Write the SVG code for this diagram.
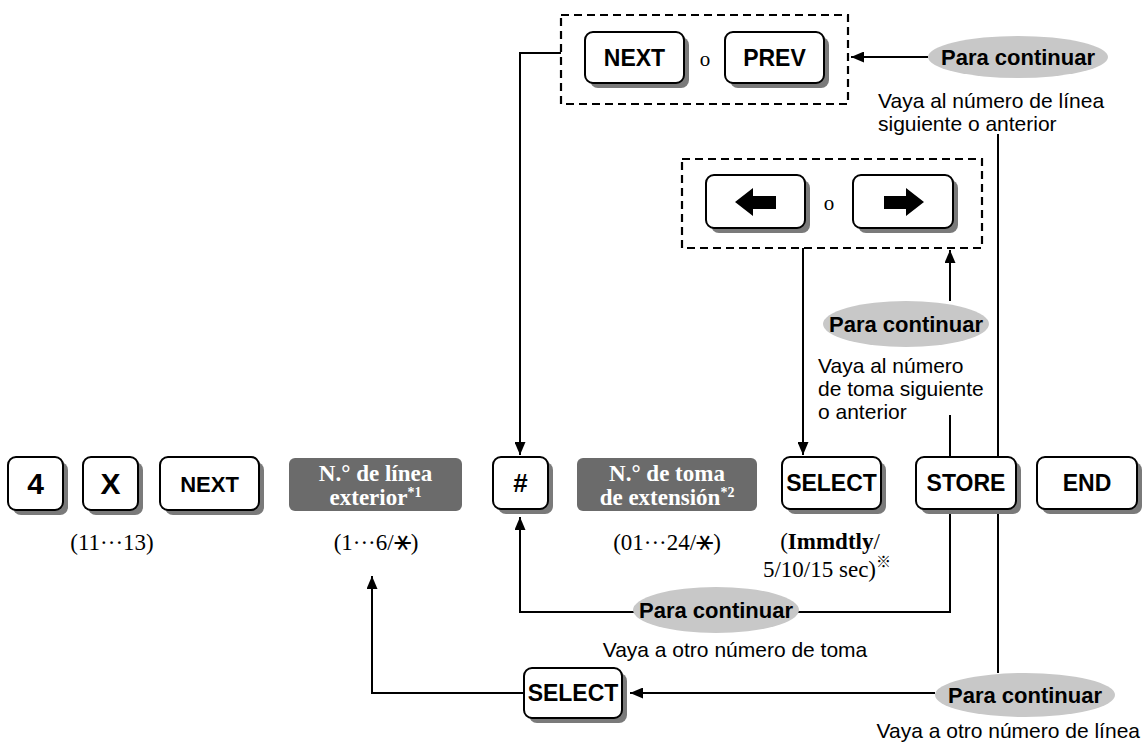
<svg xmlns="http://www.w3.org/2000/svg" width="1144" height="744" viewBox="0 0 1144 744">
<style>
.sh{fill:#7a7a7a}
.btn{fill:#fff;stroke:#000;stroke-width:2}
.bl{font-family:"Liberation Sans",Arial,sans-serif;font-weight:bold;font-size:23px;text-anchor:middle;fill:#000}
.gb{fill:#6b6b6b}
.gt{font-family:"Liberation Serif","Times New Roman",serif;font-weight:bold;font-size:23px;text-anchor:middle;fill:#fff}
.st{font-family:"Liberation Serif","Times New Roman",serif;font-size:23px;text-anchor:middle;fill:#000}
.sym{font-family:"DejaVu Sans","Noto Sans",sans-serif;font-size:29px}
.ell{fill:#c8c8c8}
.pc{font-family:"Liberation Sans",Arial,sans-serif;font-weight:bold;font-size:22px;text-anchor:middle;fill:#000}
.nt{font-family:"Liberation Sans",Arial,sans-serif;font-size:21px;fill:#000}
.ln{fill:none;stroke:#000;stroke-width:2}
.dash{fill:none;stroke:#000;stroke-width:2.2;stroke-dasharray:8 5}
</style>
<defs>
<marker id="ah" viewBox="0 0 13 11" refX="13" refY="5.5" markerWidth="13" markerHeight="11" markerUnits="userSpaceOnUse" orient="auto">
<path d="M0,0 L13,5.5 L0,11 Z" fill="#000"/>
</marker>
</defs>

<g id="connectors">
<path class="ln" d="M561,53 H520 V455" marker-end="url(#ah)"/>
<path class="ln" d="M928,57 H851" marker-end="url(#ah)"/>
<path class="ln" d="M998,134 V673"/>
<path class="ln" d="M803,248 V455" marker-end="url(#ah)"/>
<path class="ln" d="M950,301 V250" marker-end="url(#ah)"/>
<path class="ln" d="M950,415 V612 H520 V517" marker-end="url(#ah)"/>
<path class="ln" d="M935,693 H630" marker-end="url(#ah)"/>
<path class="ln" d="M524,693 H372 V576" marker-end="url(#ah)"/>
</g>

<g id="group-next-prev">
<rect class="dash" x="561" y="15" width="287" height="89"/>
<g id="btn-next-top">
<rect class="sh" x="590" y="37" width="99" height="51" rx="8"/>
<rect class="btn" x="585" y="32" width="99" height="51" rx="8"/>
<text class="bl" x="634.5" y="65.5">NEXT</text>
</g>
<text class="st" x="705" y="66" style="font-size:21px">o</text>
<g id="btn-prev-top">
<rect class="sh" x="730" y="37" width="99" height="51" rx="8"/>
<rect class="btn" x="725" y="32" width="99" height="51" rx="8"/>
<text class="bl" x="774.5" y="65.5">PREV</text>
</g>
</g>

<g id="cont-top">
<ellipse class="ell" cx="1018" cy="57" rx="90" ry="21"/>
<text class="pc" x="1018" y="65">Para continuar</text>
<text class="nt" x="878" y="108">Vaya al número de línea</text>
<text class="nt" x="878" y="131">siguiente o anterior</text>
</g>

<g id="group-arrows">
<rect class="dash" x="682" y="159" width="300" height="89"/>
<g id="btn-left">
<rect class="sh" x="711" y="180" width="99" height="53" rx="8"/>
<rect class="btn" x="706" y="175" width="99" height="53" rx="8"/>
<path d="M735,202 L753,188 L753,196 L776,196 L776,209 L753,209 L753,216 Z" fill="#000"/>
</g>
<text class="st" x="829" y="210" style="font-size:21px">o</text>
<g id="btn-right">
<rect class="sh" x="858" y="180" width="100" height="53" rx="8"/>
<rect class="btn" x="853" y="175" width="100" height="53" rx="8"/>
<path d="M924,202 L906,188 L906,196 L884,196 L884,209 L906,209 L906,216 Z" fill="#000"/>
</g>
</g>

<g id="cont-mid">
<ellipse class="ell" cx="906" cy="324" rx="83" ry="23"/>
<text class="pc" x="906" y="332">Para continuar</text>
<text class="nt" x="818" y="373">Vaya al número</text>
<text class="nt" x="818" y="396">de toma siguiente</text>
<text class="nt" x="818" y="419">o anterior</text>
</g>

<g id="btn-4">
<rect class="sh" x="13" y="462" width="55" height="53" rx="8"/>
<rect class="btn" x="8" y="457" width="55" height="53" rx="8"/>
<text class="bl" x="35.5" y="494" style="font-size:30px">4</text>
</g>
<g id="btn-x">
<rect class="sh" x="88" y="462" width="55" height="53" rx="8"/>
<rect class="btn" x="83" y="457" width="55" height="53" rx="8"/>
<text class="bl" x="110.5" y="494" style="font-size:30px">X</text>
</g>
<text class="st" x="112" y="550">(11···13)</text>
<g id="btn-next">
<rect class="sh" x="165" y="462" width="99" height="53" rx="8"/>
<rect class="btn" x="160" y="457" width="99" height="53" rx="8"/>
<text class="bl" x="209.5" y="491.5" style="font-size:22px">NEXT</text>
</g>

<g id="box-line">
<rect class="gb" x="289" y="458" width="173" height="53" rx="6"/>
<text class="gt" x="375.5" y="481">N.° de línea</text>
<text class="gt" x="375.5" y="505">exterior<tspan font-size="14" dy="-8">*1</tspan></text>
<text class="st" x="376" y="550">(1···6/<tspan class="sym">⚹</tspan>)</text>
</g>

<g id="btn-hash">
<rect class="sh" x="498" y="462" width="55" height="52" rx="8"/>
<rect class="btn" x="493" y="457" width="55" height="52" rx="8"/>
<text class="bl" x="520.5" y="492" style="font-size:26px">#</text>
</g>

<g id="box-ext">
<rect class="gb" x="577" y="458" width="180" height="53" rx="6"/>
<text class="gt" x="667" y="481">N.° de toma</text>
<text class="gt" x="667" y="505">de extensión<tspan font-size="14" dy="-8">*2</tspan></text>
<text class="st" x="667" y="550">(01···24/<tspan class="sym">⚹</tspan>)</text>
</g>

<g id="btn-select">
<rect class="sh" x="787" y="462" width="99" height="52" rx="8"/>
<rect class="btn" x="782" y="457" width="99" height="52" rx="8"/>
<text class="bl" x="831.5" y="491">SELECT</text>
<text class="st" x="830" y="549">(<tspan font-weight="bold">Immdtly</tspan>/</text>
<text class="st" x="827" y="577">5/10/15 sec)<tspan font-family="'Noto Sans CJK JP',sans-serif" font-size="15" font-weight="bold" dy="-10">※</tspan></text>
</g>

<g id="btn-store">
<rect class="sh" x="921" y="462" width="100" height="52" rx="8"/>
<rect class="btn" x="916" y="457" width="100" height="52" rx="8"/>
<text class="bl" x="966" y="491">STORE</text>
</g>

<g id="btn-end">
<rect class="sh" x="1042" y="462" width="100" height="52" rx="8"/>
<rect class="btn" x="1037" y="457" width="100" height="52" rx="8"/>
<text class="bl" x="1087" y="491">END</text>
</g>

<g id="cont-toma">
<ellipse class="ell" cx="716" cy="610" rx="83" ry="23"/>
<text class="pc" x="716" y="618">Para continuar</text>
<text class="nt" x="735" y="657" text-anchor="middle">Vaya a otro número de toma</text>
</g>

<g id="btn-select-bottom">
<rect class="sh" x="529" y="673" width="98" height="50" rx="8"/>
<rect class="btn" x="524" y="668" width="98" height="50" rx="8"/>
<text class="bl" x="573" y="701">SELECT</text>
</g>

<g id="cont-linea">
<ellipse class="ell" cx="1025" cy="695" rx="90" ry="22"/>
<text class="pc" x="1025" y="703">Para continuar</text>
<text class="nt" x="1140" y="738" text-anchor="end">Vaya a otro número de línea</text>
</g>
</svg>
